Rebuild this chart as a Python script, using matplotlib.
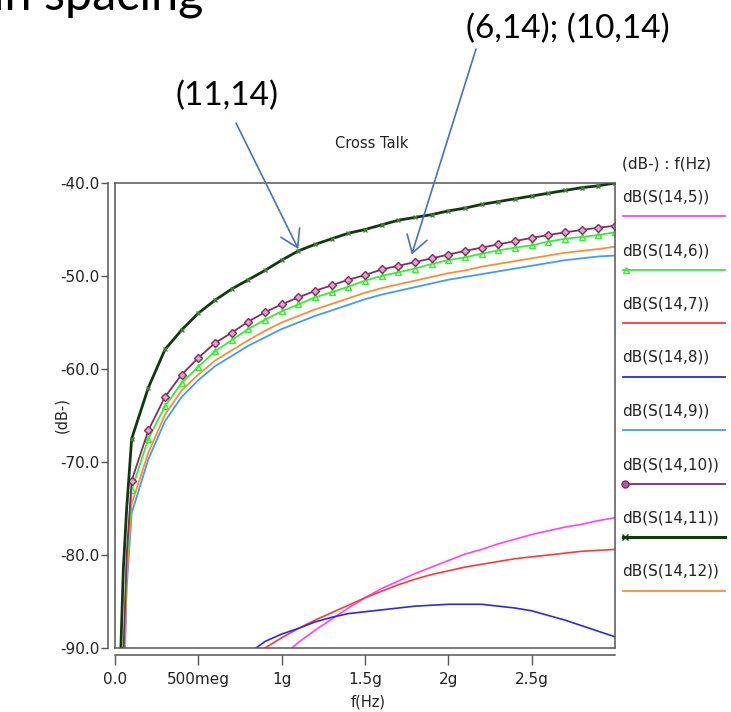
import numpy as np
import matplotlib.pyplot as plt

# fréquences (GHz) pour les courbes du haut
f = [0.03, 0.05, 0.07, 0.1, 0.2, 0.3, 0.4, 0.5, 0.6, 0.7, 0.8, 0.9, 1.0,
     1.1, 1.2, 1.3, 1.4, 1.5, 1.6, 1.7, 1.8, 1.9, 2.0, 2.1, 2.2, 2.3, 2.4,
     2.5, 2.6, 2.7, 2.8, 2.9, 3.0]

s14_11 = [-93.0, -81.5, -75.0, -67.5, -62.0, -57.9, -55.8, -54.0, -52.6, -51.4,
          -50.4, -49.4, -48.3, -47.3, -46.6, -46.0, -45.4, -45.0, -44.5, -44.0,
          -43.7, -43.4, -43.0, -42.7, -42.3, -42.0, -41.7, -41.4, -41.1, -40.8,
          -40.5, -40.3, -40.0]
s14_10 = [-99.0, -91.0, -80.0, -72.0, -66.6, -63.0, -60.6, -58.8, -57.2, -56.1,
          -54.9, -53.9, -53.05, -52.3, -51.6, -51.0, -50.4, -49.9, -49.3, -48.9,
          -48.5, -48.1, -47.7, -47.3, -46.95, -46.6, -46.25, -45.9, -45.6, -45.3,
          -45.05, -44.8, -44.6]
s14_6 = [-100.0, -92.0, -81.0, -73.0, -67.5, -64.0, -61.5, -59.75, -58.1, -56.9,
         -55.7, -54.7, -53.8, -53.05, -52.3, -51.75, -51.15, -50.5, -50.0, -49.6,
         -49.2, -48.7, -48.3, -48.0, -47.6, -47.25, -46.95, -46.7, -46.3, -46.0,
         -45.8, -45.6, -45.3]
s14_12 = [-101.0, -96.0, -82.5, -74.5, -69.0, -64.9, -62.3, -60.6, -59.1, -58.0,
          -56.9, -55.9, -55.0, -54.3, -53.6, -53.0, -52.4, -51.8, -51.3, -50.9,
          -50.5, -50.1, -49.7, -49.4, -49.0, -48.7, -48.4, -48.1, -47.8, -47.5,
          -47.3, -47.1, -46.85]
s14_9 = [-102.0, -97.0, -83.5, -75.5, -69.7, -65.6, -63.0, -61.2, -59.7, -58.6,
         -57.5, -56.6, -55.7, -55.0, -54.3, -53.7, -53.1, -52.5, -52.0, -51.6,
         -51.2, -50.8, -50.4, -50.1, -49.8, -49.5, -49.2, -48.9, -48.6, -48.3,
         -48.1, -47.9, -47.8]

# fréquences (GHz) pour les courbes du bas
f_bas = [0.8, 0.9, 1.0, 1.1, 1.2, 1.3, 1.4, 1.5, 1.6, 1.7, 1.8, 1.9, 2.0,
         2.1, 2.2, 2.3, 2.4, 2.5, 2.6, 2.7, 2.8, 2.9, 3.0]

s14_5 = [-94.0, -92.5, -91.0, -89.4, -88.1, -86.9, -85.7, -84.6, -83.6, -82.8,
         -82.0, -81.3, -80.6, -79.9, -79.4, -78.8, -78.3, -77.8, -77.4, -77.0,
         -76.7, -76.3, -76.0]
s14_7 = [-91.2, -90.0, -88.9, -87.9, -87.0, -86.2, -85.4, -84.6, -83.9, -83.2,
         -82.6, -82.1, -81.7, -81.3, -81.0, -80.7, -80.4, -80.2, -80.0, -79.8,
         -79.6, -79.5, -79.4]
s14_8 = [-90.6, -89.3, -88.5, -87.9, -87.2, -86.7, -86.3, -86.1, -85.9, -85.7,
         -85.5, -85.4, -85.3, -85.3, -85.3, -85.5, -85.7, -86.0, -86.5, -87.0,
         -87.6, -88.2, -88.8]

noms = ['dB(S(14,5))', 'dB(S(14,6))', 'dB(S(14,7))', 'dB(S(14,8))',
        'dB(S(14,9))', 'dB(S(14,10))', 'dB(S(14,11))', 'dB(S(14,12))']
couleurs = ['#FF40FF', '#30F030', '#FF3838', '#2828F0',
            '#3C9CFF', '#8A2A60', '#0E3A0E', '#FF8C30']

x_ticks = [0, 0.5, 1, 1.5, 2, 2.5]
x_labels = ['0.0', '500meg', '1g', '1.5g', '2g', '2.5g']
y_ticks = [-40, -50, -60, -70, -80, -90]
y_labels = ['-40.0', '-50.0', '-60.0', '-70.0', '-80.0', '-90.0']

# Graphique

W, H = 731, 712
plt.rcParams['font.family'] = 'DejaVu Sans'
fig = plt.figure(figsize=(W / 100, H / 100), dpi=100)
ax = fig.add_axes([115 / W, 64 / H, 500 / W, 465 / H])

cadre = '#555555'
ax.plot(f_bas, s14_5, color=couleurs[0], lw=1.2)
ax.plot(f_bas, s14_7, color=couleurs[2], lw=1.2)
ax.plot(f_bas, s14_8, color=couleurs[3], lw=1.2)
ax.plot(f, s14_9, color=couleurs[4], lw=1.3)
ax.plot(f, s14_12, color=couleurs[7], lw=1.3)
ax.plot(f, s14_6, color=couleurs[1], lw=1.3, marker='^', markersize=5,
        mfc='none', mec=couleurs[1], markevery=slice(3, None))
ax.plot(f, s14_10, color=couleurs[5], lw=1.3, marker='D', markersize=4.5,
        mfc='#D9A6CC', mec=couleurs[5], markevery=slice(3, None))
ax.plot(f, s14_11, color=couleurs[6], lw=2.0, marker='x', markersize=3,
        mec='#4A7A3A', markevery=slice(3, None))

ax.set_xlim(0, 3)
ax.set_ylim(-90, -40)

for s in ax.spines.values():
    s.set_color(cadre)
    s.set_linewidth(1.1)
ax.spines['left'].set_position(('outward', 5))
ax.spines['bottom'].set_position(('outward', 5))
ax.axvline(0, color=cadre, lw=1.1, clip_on=False)
ax.axhline(-90, color=cadre, lw=1.1, clip_on=False)

ax.set_xticks(x_ticks)
ax.set_xticklabels(x_labels)
ax.set_yticks(y_ticks)
ax.set_yticklabels(y_labels)
ax.tick_params(axis='y', direction='out', length=5, width=1, pad=1,
               labelsize=11, color=cadre, labelcolor='#222222')
ax.tick_params(axis='x', direction='out', length=7, width=1, pad=5,
               labelsize=11, color=cadre, labelcolor='#222222')

# calque en pixels pour les textes, la légende et les flèches
over = fig.add_axes([0, 0, 1, 1])
over.set_xlim(0, W)
over.set_ylim(H, 0)
over.axis('off')

over.text(372, 143, 'Cross Talk', ha='center', va='center', fontsize=10.5,
          color='#222222')
over.text(368, 702, 'f(Hz)', ha='center', va='center', fontsize=10.5,
          color='#222222')
over.text(62, 415, '(dB-)', ha='center', va='center', rotation=90,
          fontsize=10.5, color='#222222')

# légende
over.text(622, 164, '(dB-) : f(Hz)', ha='left', va='center', fontsize=11,
          color='#222222')
for i, nom in enumerate(noms):
    yt = 197 + 53.5 * i
    over.text(622, yt, nom, ha='left', va='center', fontsize=11,
              color='#222222')
    lw = 2.2 if i == 6 else 1.3
    over.plot([623, 725], [yt + 19, yt + 19], color=couleurs[i], lw=lw)
    if i == 1:
        over.plot(626, yt + 19, marker='^', ms=5, mfc='none', mec=couleurs[i])
    if i == 5:
        over.plot(625, yt + 19, marker='o', ms=5, mfc='#B06090', mec=couleurs[i])
    if i == 6:
        over.plot(625, yt + 19, marker='x', ms=4, mec=couleurs[i])

# annotations
police = 'Lato'
over.text(203, 10, 'min spacing', ha='right', va='baseline', fontsize=35,
          family=police, color='black')
over.text(227, 96, '(11,14)', ha='center', va='center', fontsize=24,
          family=police, color='black')
over.text(568, 29, '(6,14); (10,14)', ha='center', va='center', fontsize=24,
          family=police, color='black')

fleche = dict(arrowstyle='->,head_length=0.8,head_width=0.5', color='#4472C4',
              lw=1.2, shrinkA=0, shrinkB=0, mutation_scale=15)
over.annotate('', xy=(1.1, -47.1), xycoords=ax.transData,
              xytext=(236, 123), textcoords='data', arrowprops=fleche)
over.annotate('', xy=(1.78, -47.7), xycoords=ax.transData,
              xytext=(476, 49), textcoords='data', arrowprops=fleche)

fig.savefig('out.png', dpi=100)
